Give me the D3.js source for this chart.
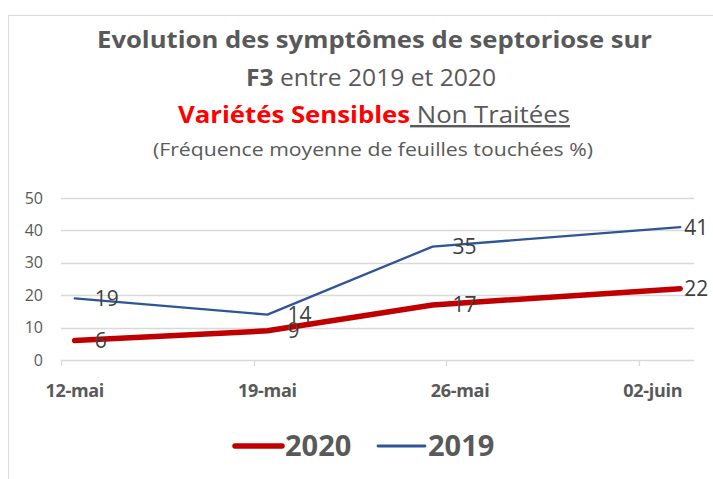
<!DOCTYPE html>
<html>
<head>
<meta charset="utf-8">
<script src="https://cdn.jsdelivr.net/npm/d3@7"></script>
<style>
    body { margin: 0; background: #fff; }
    svg { font-family: "Open Sans", sans-serif; }
</style>
</head>
<body>
<div id="chart"></div>
<script>
    // dates de notation (jours)
    var dates = ["2020-05-12", "2020-05-19", "2020-05-25", "2020-06-03"];
    var values2020 = [6, 9, 17, 22];
    var values2019 = [19, 14, 35, 41];
    var tickDates = ["2020-05-12", "2020-05-19", "2020-05-26", "2020-06-02"];
    var tickLabels = ["12-mai", "19-mai", "26-mai", "02-juin"];
    var yTicks = [0, 10, 20, 30, 40, 50];

    var width = 713, height = 479;
    var parse = d3.utcParse("%Y-%m-%d");

    var svg = d3.select("#chart").append("svg")
        .attr("width", width)
        .attr("height", height);

    // cadre
    svg.append("rect")
        .attr("x", 8.5).attr("y", 15.5)
        .attr("width", 720).attr("height", 480)
        .attr("fill", "none")
        .attr("stroke", "#d9d9d9");

    var x = d3.scaleUtc()
        .domain([parse("2020-05-12"), parse("2020-06-04")])
        .range([61, 694]);
    var y = d3.scaleLinear().domain([0, 50]).range([360, 198]);

    // centre du jour
    function dayMid(s) { return x(d3.utcHour.offset(parse(s), 12)); }

    // titre
    var title = svg.append("g").attr("fill", "#595959");
    title.append("text").attr("x", 97).attr("y", 48)
        .attr("font-size", 24).attr("font-weight", "bold")
        .attr("textLength", 555).attr("lengthAdjust", "spacingAndGlyphs")
        .text("Evolution des symptômes de septoriose sur");
    var t2 = title.append("text").attr("x", 246).attr("y", 86).attr("font-size", 24)
        .attr("textLength", 250).attr("lengthAdjust", "spacingAndGlyphs");
    t2.append("tspan").attr("font-weight", "bold").text("F3");
    t2.append("tspan").text(" entre 2019 et 2020");
    var t3 = title.append("text").attr("x", 178).attr("y", 123).attr("font-size", 24)
        .attr("textLength", 392).attr("lengthAdjust", "spacingAndGlyphs");
    t3.append("tspan").attr("font-weight", "bold").attr("fill", "#ff0000").text("Variétés Sensibles");
    t3.append("tspan").attr("text-decoration", "underline").text(" Non Traitées");
    title.append("text").attr("x", 153).attr("y", 156).attr("font-size", 18)
        .attr("textLength", 440).attr("lengthAdjust", "spacingAndGlyphs")
        .text("(Fréquence moyenne de feuilles touchées %)");

    // grille
    svg.append("g").selectAll("line").data(yTicks).join("line")
        .attr("x1", 61).attr("x2", 694)
        .attr("y1", function(d) { return Math.round(y(d)) + 0.5; })
        .attr("y2", function(d) { return Math.round(y(d)) + 0.5; })
        .attr("stroke", "#d9d9d9").attr("stroke-width", 1.3);

    svg.append("g").selectAll("text").data(yTicks).join("text")
        .attr("x", 43).attr("y", function(d) { return y(d); })
        .attr("dy", "0.35em").attr("text-anchor", "end")
        .attr("font-size", 16).attr("fill", "#595959")
        .text(function(d) { return d; });

    // axe x
    svg.append("g").selectAll("line").data(tickDates).join("line")
        .attr("x1", function(d) { return Math.round(x(parse(d))) + 0.5; })
        .attr("x2", function(d) { return Math.round(x(parse(d))) + 0.5; })
        .attr("y1", 360).attr("y2", 366)
        .attr("stroke", "#d9d9d9").attr("stroke-width", 1.3);

    svg.append("g").selectAll("text").data(tickDates).join("text")
        .attr("x", function(d) { return dayMid(d); })
        .attr("y", 397).attr("text-anchor", "middle")
        .attr("font-size", 18).attr("font-weight", "bold").attr("fill", "#595959")
        .attr("letter-spacing", -0.3)
        .text(function(d, i) { return tickLabels[i]; });

    // courbes
    var series = [
        { name: "2019", values: values2019, color: "#2f5597", w: 2.3 },
        { name: "2020", values: values2020, color: "#c00000", w: 5.5 }
    ];
    var line = d3.line()
        .x(function(d, i) { return dayMid(dates[i]); })
        .y(function(d) { return y(d); });

    series.forEach(function(s) {
        svg.append("path").datum(s.values)
            .attr("d", line)
            .attr("fill", "none")
            .attr("stroke", s.color)
            .attr("stroke-width", s.w)
            .attr("stroke-linejoin", "round")
            .attr("stroke-linecap", "round");
    });

    // étiquettes de données
    series.forEach(function(s) {
        svg.append("g").selectAll("text").data(s.values).join("text")
            .attr("x", function(d, i) { return dayMid(dates[i]) + (i === dates.length - 1 ? 4 : 20); })
            .attr("y", function(d) { return y(d); })
            .attr("dy", "0.36em")
            .attr("font-size", 21).attr("fill", "#404040")
            .text(function(d) { return d; });
    });

    // légende
    var legend = [
        { name: "2020", color: "#c00000", w: 5.5, x: 235 },
        { name: "2019", color: "#2f5597", w: 2.8, x: 378 }
    ];
    var lg = svg.append("g").selectAll("g").data(legend).join("g")
        .attr("transform", function(d) { return "translate(" + d.x + ",446)"; });
    lg.append("line").attr("x1", 0).attr("x2", 47)
        .attr("stroke", function(d) { return d.color; })
        .attr("stroke-width", function(d) { return d.w; })
        .attr("stroke-linecap", "round");
    lg.append("text").attr("x", 50).attr("dy", "0.36em")
        .attr("font-size", 29).attr("font-weight", "bold").attr("fill", "#595959")
        .text(function(d) { return d.name; });
</script>
</body>
</html>
